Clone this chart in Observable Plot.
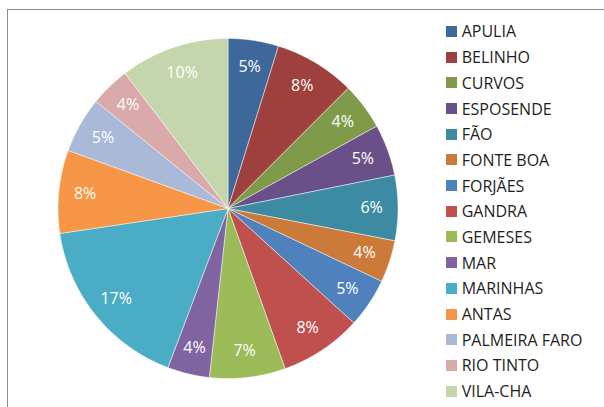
<!DOCTYPE html>
<html><head><meta charset="utf-8">
<script src="https://cdn.jsdelivr.net/npm/d3@7"></script>
<script src="https://cdn.jsdelivr.net/npm/@observablehq/plot@0.6"></script>
<style>
body{margin:0;background:#fff;}
#wrap{position:relative;width:604px;height:407px;overflow:hidden;font-family:"Open Sans",sans-serif;background:#fff;}
#frame{position:absolute;left:7px;top:9px;width:800px;height:600px;border-left:1px solid #8a8a8a;border-top:1px solid #8a8a8a;}
#chart{position:absolute;left:0;top:0;}
#legend{position:absolute;left:446px;top:18.6px;}
.item{display:flex;align-items:center;height:25.7px;font-size:16px;color:#1e1e1e;white-space:nowrap;}
.sw{width:11px;height:11px;margin-right:4.7px;flex:none;}
</style></head>
<body>
<div id="wrap"><div id="frame"></div><div id="chart"></div><div id="legend"></div></div>
<script>
const categories = ["APULIA","BELINHO","CURVOS","ESPOSENDE","FÃO","FONTE BOA","FORJÃES","GANDRA","GEMESES","MAR","MARINHAS","ANTAS","PALMEIRA FARO","RIO TINTO","VILA-CHA"];
const values = [4.8, 7.7, 4.45, 4.9, 6.2, 4.0, 4.7, 7.8, 7.2, 4.0, 16.9, 7.9, 5.3, 3.8, 10.35];
const colors = ["#3E689A","#9D403E","#7F9B4A","#6A5088","#3D8BA2","#CC7A39","#4F81BD","#C0504D","#9BBB59","#8064A2","#4BACC6","#F79646","#AAB9D7","#D9AAA9","#C6D6AC"];

const total = d3.sum(values);
const rows = categories.map((name, i) => ({name, value: values[i], pct: Math.round(values[i] / total * 100) + "%"}));
const arcs = d3.pie().sort(null).value(d => d.value).startAngle(0).endAngle(2 * Math.PI)(rows);

// polygon points for each slice (angle measured clockwise from north)
const pts = [];
arcs.forEach(a => {
  const n = Math.max(2, Math.ceil((a.endAngle - a.startAngle) / 0.005));
  pts.push({name: a.data.name, x: 0, y: 0});
  for (let k = 0; k <= n; k++) {
    const t = a.startAngle + (a.endAngle - a.startAngle) * k / n;
    pts.push({name: a.data.name, x: Math.sin(t), y: Math.cos(t)});
  }
  pts.push({name: a.data.name, x: 0, y: 0});
});
const labels = arcs.map(a => {
  const m = (a.startAngle + a.endAngle) / 2;
  return {name: a.data.name, pct: a.data.pct, x: 0.845 * Math.sin(m), y: 0.845 * Math.cos(m)};
});

const chart = Plot.plot({
  width: 604, height: 407,
  marginLeft: 57.5, marginRight: 206.5, marginTop: 38, marginBottom: 29,
  x: {domain: [-1, 1], axis: null},
  y: {domain: [-1, 1], axis: null},
  color: {domain: categories, range: colors},
  style: {background: "transparent", overflow: "visible"},
  marks: [
    Plot.line(pts, {x: "x", y: "y", z: "name", fill: "name", stroke: "#ffffff", strokeWidth: 0.6, strokeOpacity: 0.8, curve: "linear"}),
    Plot.text(labels, {x: "x", y: "y", text: "pct", fill: "#ffffff", fontSize: 16, fontFamily: "Open Sans"})
  ]
});
document.getElementById("chart").appendChild(chart);

const leg = document.getElementById("legend");
categories.forEach((c, i) => {
  const it = document.createElement("div");
  it.className = "item";
  it.innerHTML = `<span class="sw" style="background:${colors[i]}"></span><span>${c}</span>`;
  leg.appendChild(it);
});
</script>
</body></html>
